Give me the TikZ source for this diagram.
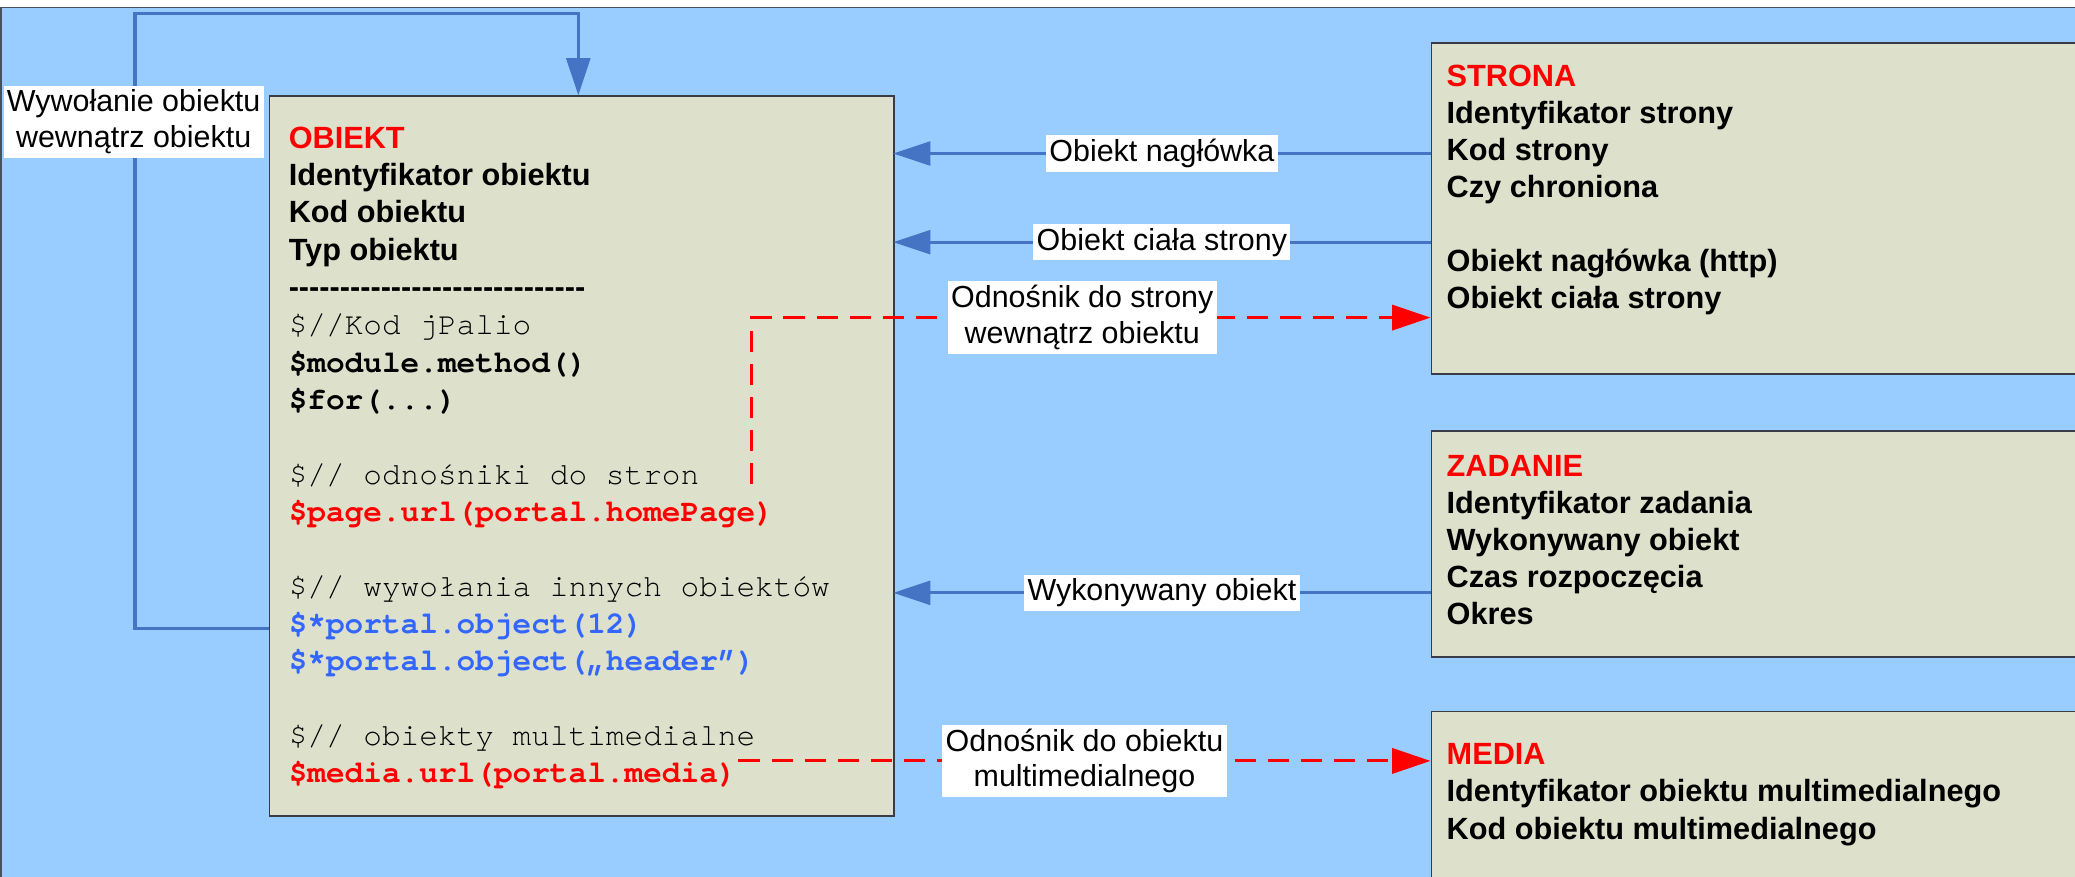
\documentclass[tikz,border=0pt]{standalone}
\usepackage{fontspec}
\setmainfont{Liberation Sans}
\newfontfamily\monof{texgyrecursor}[Extension=.otf, UprightFont=*-regular, BoldFont=*-bold]
\usetikzlibrary{arrows.meta}
\definecolor{bgblue}{RGB}{153,204,255}
\definecolor{boxfill}{RGB}{221,225,204}
\definecolor{conblue}{RGB}{70,116,196}
\definecolor{codeblue}{RGB}{51,102,255}
\definecolor{boxline}{RGB}{55,60,70}
\definecolor{bgline}{RGB}{70,80,95}
\newcommand\myhy{-\kern0pt}
\begin{document}
\begin{tikzpicture}[x=1pt,y=-1pt,
  ent/.style={draw=boxline, line width=1.3pt, fill=boxfill, inner sep=0pt, anchor=north west},
  tx/.style={inner sep=0pt, anchor=base west, font=\fontsize{23.2}{28}\selectfont\bfseries},
  hd/.style={tx, text=red},
  mr/.style={inner sep=0pt, anchor=base west, font=\monof\fontsize{23.5}{28}\selectfont},
  mb/.style={inner sep=0pt, anchor=base west, font=\monof\fontsize{23.5}{28}\selectfont\bfseries},
  lbl/.style={fill=white, text=black, font=\fontsize{23}{27}\selectfont, align=center, inner xsep=2.5pt, inner ysep=3pt},
  conn/.style={draw=conblue, line width=2.3pt, -{Triangle[length=28pt,width=18pt]}},
  redconn/.style={draw=red, line width=2.3pt, dash pattern=on 16pt off 9pt, -{Triangle[length=29pt,width=19pt]}}
]
\useasboundingbox (0,0) rectangle (1568,662.7);
\clip (0,0) rectangle (1568,662.7);
\fill[white] (0,0) rectangle (1568,662.7);
\fill[bgblue] (0,5) rectangle (1600,700);
\draw[bgline, line width=1.3pt] (0.6,700) -- (0.6,5.6) -- (1600,5.6);

% boxes
\node[ent, minimum width=472pt, minimum height=544pt] (obiekt) at (203,72) {};
\node[ent, minimum width=530pt, minimum height=250pt] (strona) at (1081,32) {};
\node[ent, minimum width=530pt, minimum height=171pt] (zadanie) at (1081,325) {};
\node[ent, minimum width=530pt, minimum height=200pt] (media) at (1081,537) {};

% OBIEKT text
\node[hd] (o1) at (218,112) {OBIEKT};
\node[tx] (o2) at (218,140.2) {Identyfikator obiektu};
\node[tx] (o3) at (218,168.4) {Kod obiektu};
\node[tx] (o4) at (218,196.6) {Typ obiektu};
\node[tx] (o5) at (218,224.8) {\myhy\myhy\myhy\myhy\myhy\myhy\myhy\myhy\myhy\myhy\myhy\myhy\myhy\myhy\myhy\myhy\myhy\myhy\myhy\myhy\myhy\myhy\myhy\myhy\myhy\myhy\myhy\myhy\myhy};
\node[mr] (o6) at (218,253) {\$//Kod jPalio};
\node[mb] (o7) at (218,281.2) {\$module.method()};
\node[mb] (o8) at (218,309.4) {\$for(...)};
\node[mr] (o9) at (218,365.8) {\$// odnośniki do stron};
\node[mb, text=red] (o10) at (218,394) {\$page.url(portal.homePage)};
\node[mr] (o11) at (218,450.4) {\$// wywołania innych obiektów};
\node[mb, text=codeblue] (o12) at (218,478.6) {\$*portal.object(12)};
\node[mb, text=codeblue] (o13) at (218,506.8) {\$*portal.object(„header”)};
\node[mr] (o14) at (218,563.2) {\$// obiekty multimedialne};
\node[mb, text=red] (o15) at (218,591.4) {\$media.url(portal.media)};

% STRONA text
\node[hd] (s1) at (1093,65.5) {STRONA};
\node[tx] (s2) at (1093,93.5) {Identyfikator strony};
\node[tx] (s3) at (1093,121.5) {Kod strony};
\node[tx] (s4) at (1093,149.5) {Czy chroniona};
\node[tx] (s5) at (1093,205.5) {Obiekt nagłówka (http)};
\node[tx] (s6) at (1093,233.5) {Obiekt ciała strony};

% ZADANIE text
\node[hd] (z1) at (1093,360) {ZADANIE};
\node[tx] (z2) at (1093,388) {Identyfikator zadania};
\node[tx] (z3) at (1093,416) {Wykonywany obiekt};
\node[tx] (z4) at (1093,444) {Czas rozpoczęcia};
\node[tx] (z5) at (1093,472) {Okres};

% MEDIA text
\node[hd] (m1) at (1093,578) {MEDIA};
\node[tx] (m2) at (1093,606) {Identyfikator obiektu multimedialnego};
\node[tx] (m3) at (1093,634) {Kod obiektu multimedialnego};

% connector points
\coordinate (lp1) at (203,475);
\coordinate (lp2) at (102,475);
\coordinate (lp3) at (102,10);
\coordinate (lp4) at (437,10);
\coordinate (lp5) at (437,72);
\coordinate (sa) at (1081,116);
\coordinate (oa) at (675,116);
\coordinate (sb) at (1081,183);
\coordinate (ob) at (675,183);
\coordinate (za) at (1081,448);
\coordinate (oc) at (675,448);
\coordinate (rs1) at (568,366);
\coordinate (rc) at (568,240);
\coordinate (rs2) at (1081,240);
\coordinate (rm1) at (558,575);
\coordinate (rm2) at (1081,575);

% connectors
\draw[conn] (lp1) -- (lp2) -- (lp3) -- (lp4) -- (lp5);
\node[lbl] (l1) at (101,92) {Wywołanie obiektu\\wewnątrz obiektu};
\draw[conn] (sa) -- node[lbl] (l2) {Obiekt nagłówka} (oa);
\draw[conn] (sb) -- node[lbl] (l3) {Obiekt ciała strony} (ob);
\draw[conn] (za) -- node[lbl] (l4) {Wykonywany obiekt} (oc);
\draw[redconn] (rs1) -- (rc) -- node[lbl, pos=0.487] (l5) {Odnośnik do strony\\wewnątrz obiektu} (rs2);
\draw[redconn] (rm1) -- node[lbl] (l6) {Odnośnik do obiektu\\multimedialnego} (rm2);
\end{tikzpicture}
\end{document}
